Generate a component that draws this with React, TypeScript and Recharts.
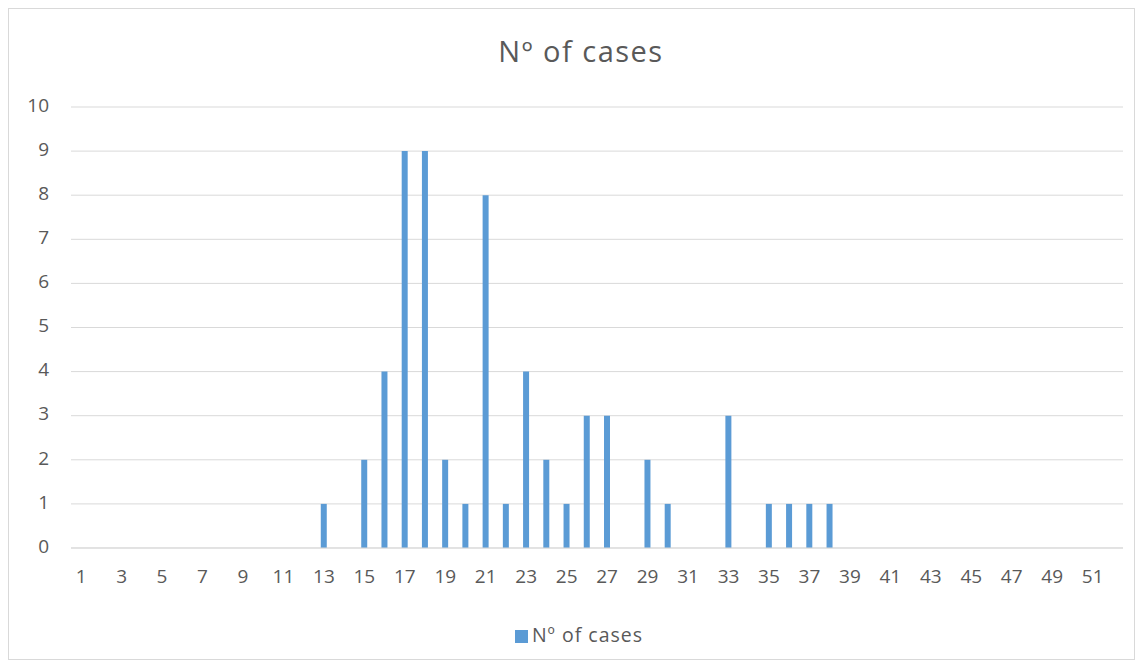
import React from "react";
import { BarChart, Bar, XAxis, YAxis, CartesianGrid, Legend } from "recharts";

const categories: string[] = [
  "1","2","3","4","5","6","7","8","9","10","11","12","13","14","15","16","17","18","19","20",
  "21","22","23","24","25","26","27","28","29","30","31","32","33","34","35","36","37","38","39","40",
  "41","42","43","44","45","46","47","48","49","50","51","52",
];
const cases: number[] = [
  0,0,0,0,0,0,0,0,0,0,0,0,1,0,2,4,9,9,2,1,
  8,1,4,2,1,3,3,0,2,1,0,0,3,0,1,1,1,1,0,0,
  0,0,0,0,0,0,0,0,0,0,0,0,
];
const yTicks: number[] = [0,1,2,3,4,5,6,7,8,9,10];
const seriesName = "Nº of cases";
const title = "Nº of cases";

const data = categories.map((c, i) => ({ cat: c, v: cases[i] }));

const font = "'Open Sans', 'Liberation Sans', sans-serif";

export default function App() {
  return (
    <div style={{ position: "relative", width: 1125, height: 650, border: "1px solid #d9d9d9", background: "#fff", fontFamily: font }}>
      <div style={{ position: "absolute", left: 19, width: 1106, top: 22, textAlign: "center", fontSize: 29, letterSpacing: 1.5, color: "#595959", lineHeight: "normal" }}>
        {title}
      </div>
      <BarChart width={1125} height={650} data={data} margin={{ top: 98, right: 11, bottom: 0, left: 0 }}>
        <CartesianGrid vertical={false} stroke="#d9d9d9" />
        <XAxis
          dataKey="cat"
          interval={1}
          tickLine={false}
          axisLine={{ stroke: "#d9d9d9" }}
          tick={{ fill: "#595959", fontSize: 19, fontFamily: font }}
          tickMargin={16}
          height={45}
        />
        <YAxis
          domain={[0, 10]}
          ticks={yTicks}
          interval={0}
          tickLine={false}
          axisLine={false}
          width={62}
          tickMargin={16}
          tick={{ fill: "#595959", fontSize: 19, fontFamily: font, dy: -2 }}
        />
        <Legend
          verticalAlign="bottom"
          height={38}
          iconType="square"
          iconSize={13}
          wrapperStyle={{ fontSize: 19.5, fontFamily: font, color: "#595959", paddingTop: 28, paddingLeft: 18, letterSpacing: 1 }}
          formatter={(v) => <span style={{ color: "#595959" }}>{v}</span>}
        />
        <Bar dataKey="v" name={seriesName} fill="#5B9BD5" barSize={6} isAnimationActive={false} />
      </BarChart>
    </div>
  );
}
